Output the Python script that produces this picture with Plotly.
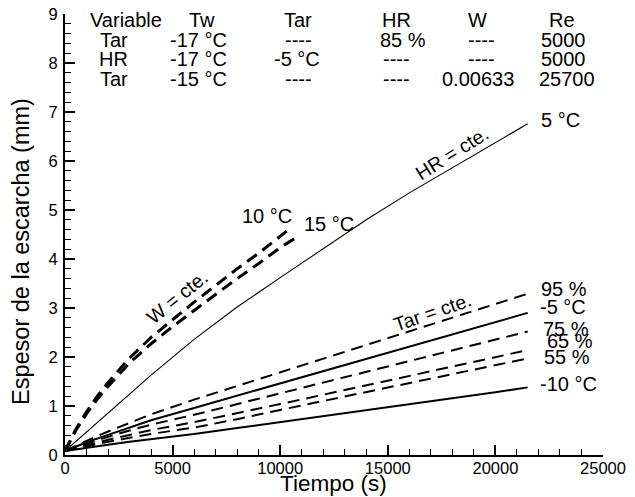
import plotly.graph_objects as go

# ---------------- data ----------------
# Tar = cte. family (time in s, thickness in mm)
t_low = [0, 1000, 2000, 3000, 4000, 6000, 8000, 10000, 12000, 14000, 16000, 18000, 20000, 21500]
hr95 = [0.08, 0.29, 0.48, 0.66, 0.83, 1.13, 1.41, 1.69, 1.97, 2.25, 2.53, 2.81, 3.09, 3.29]
hr75 = [0.08, 0.23, 0.37, 0.50, 0.62, 0.82, 1.04, 1.26, 1.48, 1.70, 1.92, 2.14, 2.36, 2.52]
hr65 = [0.08, 0.20, 0.31, 0.41, 0.51, 0.67, 0.85, 1.04, 1.23, 1.42, 1.61, 1.80, 1.99, 2.14]
hr55 = [0.08, 0.18, 0.27, 0.35, 0.43, 0.56, 0.73, 0.92, 1.10, 1.28, 1.47, 1.65, 1.83, 1.97]
# HR = cte. family
tar_m5 = [0.08, 0.26, 0.41, 0.56, 0.71, 0.96, 1.21, 1.46, 1.71, 1.96, 2.21, 2.46, 2.72, 2.90]
tar_m10 = [0.08, 0.15, 0.21, 0.27, 0.32, 0.43, 0.55, 0.67, 0.80, 0.92, 1.04, 1.16, 1.28, 1.38]
t_hr = [0, 2000, 4000, 6000, 8000, 10000, 12000, 14000, 16000, 18000, 20000, 21500]
tar_5 = [0.08, 0.86, 1.63, 2.36, 3.02, 3.62, 4.21, 4.80, 5.35, 5.86, 6.36, 6.76]
# W = cte. family
t_w10 = [0, 500, 1000, 1500, 2000, 3000, 4000, 5000, 6000, 7000, 8000, 9000, 10000, 10400]
w_10 = [0.08, 0.52, 0.88, 1.20, 1.48, 1.98, 2.40, 2.77, 3.12, 3.46, 3.80, 4.12, 4.45, 4.60]
t_w15 = [0, 500, 1000, 1500, 2000, 3000, 4000, 5000, 6000, 7000, 8000, 9000, 10000, 10750]
w_15 = [0.08, 0.50, 0.84, 1.14, 1.40, 1.88, 2.27, 2.62, 2.95, 3.28, 3.60, 3.91, 4.23, 4.44]

# table text
table_cols = ["Variable", "Tw", "Tar", "HR", "W", "Re"]
table_rows = [
    ["Tar", "-17 °C", "----", "85 %", "----", "5000"],
    ["HR", "-17 °C", "-5 °C", "----", "----", "5000"],
    ["Tar", "-15 °C", "----", "----", "0.00633", "25700"],
]

x_ticks = [0, 5000, 10000, 15000, 20000, 25000]
y_ticks = [0, 1, 2, 3, 4, 5, 6, 7, 8, 9]

# ---------------- figure ----------------
W, H = 635, 497
L, R, T, B = 65, 32, 14, 42
PW, PH = W - L - R, H - T - B
FONT = "Liberation Sans, Arial, sans-serif"


def px(x):
    return (x - L) / PW


def py(y):
    return (H - B - y) / PH


DASH = "12px,7px"
fig = go.Figure()


def add(t, y, dash="solid", width=2.0):
    fig.add_trace(go.Scatter(x=t, y=y, mode="lines",
                             line=dict(color="black", width=width, dash=dash),
                             showlegend=False, hoverinfo="skip"))


add(t_w10, w_10, DASH, 3)
add(t_w15, w_15, DASH, 3)
add(t_hr, tar_5, "solid", 1.1)
add(t_low, hr95, DASH, 2)
add(t_low, tar_m5, "solid", 2)
add(t_low, hr75, DASH, 2)
add(t_low, hr65, DASH, 2)
add(t_low, hr55, DASH, 2)
add(t_low, tar_m10, "solid", 2)

ann = []


def text(x, y, s, size=20, angle=0):
    ann.append(dict(x=px(x), y=py(y), xref="paper", yref="paper", text=s,
                    showarrow=False, xanchor="center", yanchor="middle",
                    textangle=angle, font=dict(family=FONT, size=size, color="black")))


# table
col_x_head = [125.5, 201.5, 298, 396, 477.5, 561.5]
col_x_rows = [
    [114, 198, 298, 403, 481, 563],
    [113, 198, 297, 396, 481, 563],
    [114, 198, 298, 396, 478, 567],
]
row_y = [40, 59.5, 79]
for s, x in zip(table_cols, col_x_head):
    text(x, 20.5, s)
for row, xs, y in zip(table_rows, col_x_rows, row_y):
    for s, x in zip(row, xs):
        text(x, y, s)

# curve labels
for s, x, y in [("5 °C", 560, 120), ("95 %", 564, 289), ("-5 °C", 563, 307),
                ("75 %", 566, 329), ("65 %", 570, 341), ("55 %", 567, 357),
                ("-10 °C", 568, 384), ("10 °C", 267, 216), ("15 °C", 329, 224)]:
    text(x, y, s)

text(177, 297, "W = cte.", 19.5, -39)
text(452, 153, "HR = cte.", 19.5, -32)
text(432, 312, "Tar = cte.", 19.5, -19)

# axis titles
text(333, 483, "Tiempo (s)", 22.5)
text(21, 252, "Espesor de la escarcha (mm)", 23.5, -90)

axis_common = dict(showline=True, linecolor="black", linewidth=2, mirror=False,
                   ticks="inside", ticklen=10, tickwidth=2, tickcolor="black",
                   showgrid=False, zeroline=False,
                   tickfont=dict(family=FONT, size=16.5, color="black"))

fig.update_layout(
    width=W, height=H,
    margin=dict(l=L, r=R, t=T, b=B, pad=0, autoexpand=False),
    paper_bgcolor="white", plot_bgcolor="white",
    annotations=ann,
    xaxis=dict(range=[0, 25000], tickvals=x_ticks, ticktext=[str(v) for v in x_ticks],
               ticklabelstandoff=-3,
               minor=dict(ticks="inside", ticklen=6, tickwidth=1, tickcolor="black", dtick=1000),
               **axis_common),
    yaxis=dict(range=[0, 9], tickvals=y_ticks, ticktext=[str(v) for v in y_ticks],
               ticklabelstandoff=2,
               minor=dict(ticks="inside", ticklen=6, tickwidth=1, tickcolor="black", dtick=0.2),
               **axis_common),
)

fig.write_html("out.html")
